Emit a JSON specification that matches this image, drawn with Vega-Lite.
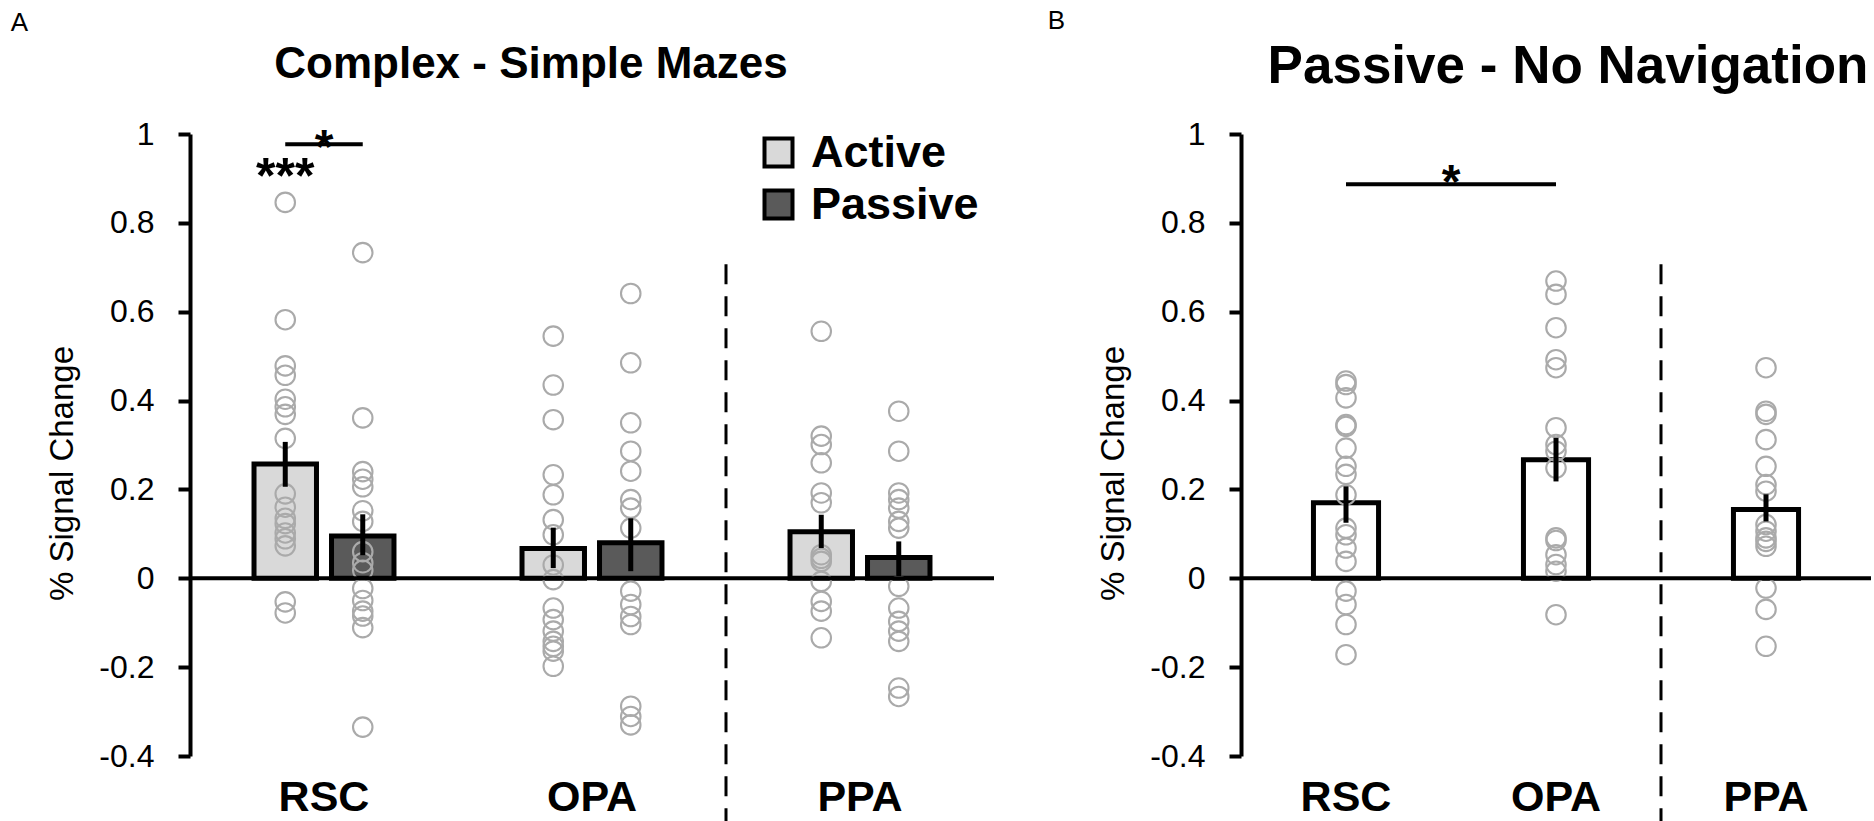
{
  "$schema": "https://vega.github.io/schema/vega-lite/v6.json",
  "background": "white",
  "padding": {"left": 10, "top": 8, "right": 0, "bottom": 0},
  "config": {
    "font": "Liberation Sans",
    "view": {"stroke": null},
    "axis": {"grid": false, "domainColor": "black", "tickColor": "black", "labelColor": "black", "titleColor": "black"},
    "title": {"color": "black"}
  },
  "datasets": {
    "barsA": [
      {"group": "RSC", "cond": "Active", "mean": 0.257, "lo": 0.206, "hi": 0.307},
      {"group": "RSC", "cond": "Passive", "mean": 0.095, "lo": 0.052, "hi": 0.144},
      {"group": "OPA", "cond": "Active", "mean": 0.067, "lo": 0.023, "hi": 0.114},
      {"group": "OPA", "cond": "Passive", "mean": 0.08, "lo": 0.016, "hi": 0.135},
      {"group": "PPA", "cond": "Active", "mean": 0.105, "lo": 0.068, "hi": 0.143},
      {"group": "PPA", "cond": "Passive", "mean": 0.047, "lo": 0.005, "hi": 0.083}
    ],
    "ptsA": [
      {"group": "RSC", "cond": "Active", "v": 0.846}, {"group": "RSC", "cond": "Active", "v": 0.582}, {"group": "RSC", "cond": "Active", "v": 0.478}, {"group": "RSC", "cond": "Active", "v": 0.457}, {"group": "RSC", "cond": "Active", "v": 0.403}, {"group": "RSC", "cond": "Active", "v": 0.386}, {"group": "RSC", "cond": "Active", "v": 0.369}, {"group": "RSC", "cond": "Active", "v": 0.315}, {"group": "RSC", "cond": "Active", "v": 0.19}, {"group": "RSC", "cond": "Active", "v": 0.16}, {"group": "RSC", "cond": "Active", "v": 0.135}, {"group": "RSC", "cond": "Active", "v": 0.123}, {"group": "RSC", "cond": "Active", "v": 0.102}, {"group": "RSC", "cond": "Active", "v": 0.089}, {"group": "RSC", "cond": "Active", "v": 0.073}, {"group": "RSC", "cond": "Active", "v": -0.053}, {"group": "RSC", "cond": "Active", "v": -0.078},
      {"group": "RSC", "cond": "Passive", "v": 0.733}, {"group": "RSC", "cond": "Passive", "v": 0.361}, {"group": "RSC", "cond": "Passive", "v": 0.24}, {"group": "RSC", "cond": "Passive", "v": 0.223}, {"group": "RSC", "cond": "Passive", "v": 0.206}, {"group": "RSC", "cond": "Passive", "v": 0.152}, {"group": "RSC", "cond": "Passive", "v": 0.128}, {"group": "RSC", "cond": "Passive", "v": 0.06}, {"group": "RSC", "cond": "Passive", "v": 0.035}, {"group": "RSC", "cond": "Passive", "v": 0.018}, {"group": "RSC", "cond": "Passive", "v": -0.023}, {"group": "RSC", "cond": "Passive", "v": -0.05}, {"group": "RSC", "cond": "Passive", "v": -0.074}, {"group": "RSC", "cond": "Passive", "v": -0.085}, {"group": "RSC", "cond": "Passive", "v": -0.111}, {"group": "RSC", "cond": "Passive", "v": -0.335},
      {"group": "OPA", "cond": "Active", "v": 0.545}, {"group": "OPA", "cond": "Active", "v": 0.435}, {"group": "OPA", "cond": "Active", "v": 0.357}, {"group": "OPA", "cond": "Active", "v": 0.233}, {"group": "OPA", "cond": "Active", "v": 0.188}, {"group": "OPA", "cond": "Active", "v": 0.132}, {"group": "OPA", "cond": "Active", "v": 0.098}, {"group": "OPA", "cond": "Active", "v": 0.03}, {"group": "OPA", "cond": "Active", "v": -0.003}, {"group": "OPA", "cond": "Active", "v": -0.067}, {"group": "OPA", "cond": "Active", "v": -0.093}, {"group": "OPA", "cond": "Active", "v": -0.119}, {"group": "OPA", "cond": "Active", "v": -0.142}, {"group": "OPA", "cond": "Active", "v": -0.153}, {"group": "OPA", "cond": "Active", "v": -0.164}, {"group": "OPA", "cond": "Active", "v": -0.198},
      {"group": "OPA", "cond": "Passive", "v": 0.641}, {"group": "OPA", "cond": "Passive", "v": 0.485}, {"group": "OPA", "cond": "Passive", "v": 0.35}, {"group": "OPA", "cond": "Passive", "v": 0.286}, {"group": "OPA", "cond": "Passive", "v": 0.241}, {"group": "OPA", "cond": "Passive", "v": 0.177}, {"group": "OPA", "cond": "Passive", "v": 0.158}, {"group": "OPA", "cond": "Passive", "v": 0.113}, {"group": "OPA", "cond": "Passive", "v": -0.029}, {"group": "OPA", "cond": "Passive", "v": -0.059}, {"group": "OPA", "cond": "Passive", "v": -0.086}, {"group": "OPA", "cond": "Passive", "v": -0.104}, {"group": "OPA", "cond": "Passive", "v": -0.288}, {"group": "OPA", "cond": "Passive", "v": -0.311}, {"group": "OPA", "cond": "Passive", "v": -0.33},
      {"group": "PPA", "cond": "Active", "v": 0.556}, {"group": "PPA", "cond": "Active", "v": 0.32}, {"group": "PPA", "cond": "Active", "v": 0.301}, {"group": "PPA", "cond": "Active", "v": 0.26}, {"group": "PPA", "cond": "Active", "v": 0.192}, {"group": "PPA", "cond": "Active", "v": 0.17}, {"group": "PPA", "cond": "Active", "v": 0.053}, {"group": "PPA", "cond": "Active", "v": 0.045}, {"group": "PPA", "cond": "Active", "v": 0.038}, {"group": "PPA", "cond": "Active", "v": -0.007}, {"group": "PPA", "cond": "Active", "v": -0.052}, {"group": "PPA", "cond": "Active", "v": -0.074}, {"group": "PPA", "cond": "Active", "v": -0.134},
      {"group": "PPA", "cond": "Passive", "v": 0.376}, {"group": "PPA", "cond": "Passive", "v": 0.286}, {"group": "PPA", "cond": "Passive", "v": 0.192}, {"group": "PPA", "cond": "Passive", "v": 0.177}, {"group": "PPA", "cond": "Passive", "v": 0.158}, {"group": "PPA", "cond": "Passive", "v": 0.128}, {"group": "PPA", "cond": "Passive", "v": 0.113}, {"group": "PPA", "cond": "Passive", "v": -0.018}, {"group": "PPA", "cond": "Passive", "v": -0.067}, {"group": "PPA", "cond": "Passive", "v": -0.097}, {"group": "PPA", "cond": "Passive", "v": -0.119}, {"group": "PPA", "cond": "Passive", "v": -0.142}, {"group": "PPA", "cond": "Passive", "v": -0.247}, {"group": "PPA", "cond": "Passive", "v": -0.266}
    ],
    "barsB": [
      {"group": "RSC", "mean": 0.17, "lo": 0.125, "hi": 0.207},
      {"group": "OPA", "mean": 0.267, "lo": 0.218, "hi": 0.316},
      {"group": "PPA", "mean": 0.155, "lo": 0.128, "hi": 0.189}
    ],
    "ptsB": [
      {"group": "RSC", "v": 0.444}, {"group": "RSC", "v": 0.436}, {"group": "RSC", "v": 0.406}, {"group": "RSC", "v": 0.346}, {"group": "RSC", "v": 0.342}, {"group": "RSC", "v": 0.293}, {"group": "RSC", "v": 0.252}, {"group": "RSC", "v": 0.234}, {"group": "RSC", "v": 0.188}, {"group": "RSC", "v": 0.113}, {"group": "RSC", "v": 0.098}, {"group": "RSC", "v": 0.068}, {"group": "RSC", "v": 0.038}, {"group": "RSC", "v": -0.029}, {"group": "RSC", "v": -0.059}, {"group": "RSC", "v": -0.104}, {"group": "RSC", "v": -0.172},
      {"group": "OPA", "v": 0.669}, {"group": "OPA", "v": 0.639}, {"group": "OPA", "v": 0.564}, {"group": "OPA", "v": 0.492}, {"group": "OPA", "v": 0.474}, {"group": "OPA", "v": 0.339}, {"group": "OPA", "v": 0.301}, {"group": "OPA", "v": 0.286}, {"group": "OPA", "v": 0.248}, {"group": "OPA", "v": 0.091}, {"group": "OPA", "v": 0.085}, {"group": "OPA", "v": 0.053}, {"group": "OPA", "v": 0.031}, {"group": "OPA", "v": 0.016}, {"group": "OPA", "v": -0.082},
      {"group": "PPA", "v": 0.474}, {"group": "PPA", "v": 0.376}, {"group": "PPA", "v": 0.369}, {"group": "PPA", "v": 0.312}, {"group": "PPA", "v": 0.252}, {"group": "PPA", "v": 0.211}, {"group": "PPA", "v": 0.196}, {"group": "PPA", "v": 0.121}, {"group": "PPA", "v": 0.106}, {"group": "PPA", "v": 0.091}, {"group": "PPA", "v": 0.083}, {"group": "PPA", "v": 0.072}, {"group": "PPA", "v": -0.022}, {"group": "PPA", "v": -0.07}, {"group": "PPA", "v": -0.153}
    ]
  },
  "spacing": 51,
  "hconcat": [
    {
      "title": {"text": "A", "anchor": "start", "fontSize": 26, "fontWeight": "normal", "dx": -36, "offset": 7},
      "hconcat": [
        {
          "width": 804,
          "height": 622,
          "title": {"text": "Complex - Simple Mazes", "fontSize": 44, "fontWeight": "bold", "anchor": "middle", "frame": "group", "dx": -61, "offset": 31},
          "layer": [
            {
              "data": {"name": "barsA"},
              "mark": {"type": "bar", "stroke": "black", "strokeWidth": 5},
              "encoding": {
                "x": {"field": "group", "type": "nominal", "scale": {"domain": ["RSC", "OPA", "PPA"], "paddingInner": 0, "paddingOuter": 0},
                      "axis": {"title": null, "domain": false, "ticks": false, "labelAngle": 0, "labelFontSize": 43, "labelFontWeight": "bold", "labelPadding": 20}},
                "xOffset": {"field": "cond", "type": "nominal", "scale": {"domain": ["Active", "Passive"], "paddingInner": 0.194, "paddingOuter": 0.826}},
                "y": {"field": "mean", "type": "quantitative", "scale": {"domain": [-0.4, 1], "nice": false, "zero": false},
                      "axis": {"title": "% Signal Change", "values": [-0.4, -0.2, 0, 0.2, 0.4, 0.6, 0.8, 1], "labelExpr": "toString(round(datum.value*10)/10)", "labelFontSize": 32, "titleFontSize": 33, "titleFontWeight": "normal", "tickSize": 12, "tickWidth": 4, "domainWidth": 4, "labelPadding": 24, "titlePadding": 19, "titleY": 339}},
                "fill": {"field": "cond", "type": "nominal", "scale": {"domain": ["Active", "Passive"], "range": ["#d9d9d9", "#5a5a5a"]},
                         "legend": {"orient": "none", "legendX": 566, "legendY": -4, "title": null, "symbolType": "square", "symbolSize": 784, "symbolStrokeColor": "black", "symbolStrokeWidth": 4, "labelFontSize": 45, "labelFontWeight": "bold", "labelOffset": 10, "labelLimit": 0, "rowPadding": 6, "padding": 0, "labelColor": "black"}}
              }
            },
            {
              "data": {"name": "ptsA"},
              "mark": {"type": "point", "shape": "circle", "filled": false, "size": 380, "stroke": "#aaaaaa", "strokeWidth": 2.1, "opacity": 1},
              "encoding": {
                "x": {"field": "group", "type": "nominal"},
                "xOffset": {"field": "cond", "type": "nominal"},
                "y": {"field": "v", "type": "quantitative"}
              }
            },
            {
              "data": {"name": "barsA"},
              "mark": {"type": "rule", "color": "black", "strokeWidth": 5},
              "encoding": {
                "x": {"field": "group", "type": "nominal"},
                "xOffset": {"field": "cond", "type": "nominal"},
                "y": {"field": "lo", "type": "quantitative"},
                "y2": {"field": "hi"}
              }
            },
            {
              "data": {"values": [{}]},
              "mark": {"type": "rule", "color": "black", "strokeWidth": 4},
              "encoding": {"y": {"datum": 0, "type": "quantitative"}}
            },
            {
              "data": {"values": [{}]},
              "mark": {"type": "rule", "color": "black", "strokeWidth": 3, "strokeDash": [20, 12]},
              "encoding": {
                "x": {"datum": "PPA", "type": "nominal", "bandPosition": 0},
                "y": {"datum": 0.707, "type": "quantitative"},
                "y2": {"datum": -0.55}
              }
            },
            {
              "data": {"values": [{"group": "RSC", "cond": "Active", "v": 0.977}, {"group": "RSC", "cond": "Passive", "v": 0.977}]},
              "mark": {"type": "line", "color": "black", "strokeWidth": 4},
              "encoding": {
                "x": {"field": "group", "type": "nominal"},
                "xOffset": {"field": "cond", "type": "nominal"},
                "y": {"field": "v", "type": "quantitative"}
              }
            },
            {
              "data": {"values": [{"group": "RSC", "cond": "Active", "label": "***", "v": 0.868}]},
              "mark": {"type": "text", "fontSize": 50, "fontWeight": "bold", "baseline": "alphabetic", "align": "center", "color": "black"},
              "encoding": {
                "x": {"field": "group", "type": "nominal"},
                "xOffset": {"field": "cond", "type": "nominal"},
                "y": {"field": "v", "type": "quantitative"},
                "text": {"field": "label"}
              }
            },
            {
              "data": {"values": [{"group": "RSC", "label": "*", "v": 0.934}]},
              "mark": {"type": "text", "fontSize": 48, "fontWeight": "bold", "baseline": "alphabetic", "align": "center", "color": "black"},
              "encoding": {
                "x": {"field": "group", "type": "nominal"},
                "y": {"field": "v", "type": "quantitative"},
                "text": {"field": "label"}
              }
            }
          ]
        }
      ]
    },
    {
      "title": {"text": "B", "anchor": "start", "fontSize": 26, "fontWeight": "normal", "dx": -50, "offset": 7},
      "hconcat": [
        {
          "width": 630,
          "height": 622,
          "title": {"text": "Passive - No Navigation", "fontSize": 53, "fontWeight": "bold", "anchor": "middle", "frame": "group", "dx": 12, "offset": 24},
          "layer": [
            {
              "data": {"name": "barsB"},
              "mark": {"type": "bar", "fill": "white", "stroke": "black", "strokeWidth": 5, "width": {"band": 0.31}},
              "encoding": {
                "x": {"field": "group", "type": "nominal", "scale": {"domain": ["RSC", "OPA", "PPA"], "paddingInner": 0, "paddingOuter": 0},
                      "axis": {"title": null, "domain": false, "ticks": false, "labelAngle": 0, "labelFontSize": 43, "labelFontWeight": "bold", "labelPadding": 20}},
                "y": {"field": "mean", "type": "quantitative", "scale": {"domain": [-0.4, 1], "nice": false, "zero": false},
                      "axis": {"title": "% Signal Change", "values": [-0.4, -0.2, 0, 0.2, 0.4, 0.6, 0.8, 1], "labelExpr": "toString(round(datum.value*10)/10)", "labelFontSize": 32, "titleFontSize": 33, "titleFontWeight": "normal", "tickSize": 12, "tickWidth": 4, "domainWidth": 4, "labelPadding": 24, "titlePadding": 19, "titleY": 339}}
              }
            },
            {
              "data": {"name": "ptsB"},
              "mark": {"type": "point", "shape": "circle", "filled": false, "size": 380, "stroke": "#aaaaaa", "strokeWidth": 2.1, "opacity": 1},
              "encoding": {
                "x": {"field": "group", "type": "nominal"},
                "y": {"field": "v", "type": "quantitative"}
              }
            },
            {
              "data": {"name": "barsB"},
              "mark": {"type": "rule", "color": "black", "strokeWidth": 5},
              "encoding": {
                "x": {"field": "group", "type": "nominal"},
                "y": {"field": "lo", "type": "quantitative"},
                "y2": {"field": "hi"}
              }
            },
            {
              "data": {"values": [{}]},
              "mark": {"type": "rule", "color": "black", "strokeWidth": 4},
              "encoding": {"y": {"datum": 0, "type": "quantitative"}}
            },
            {
              "data": {"values": [{}]},
              "mark": {"type": "rule", "color": "black", "strokeWidth": 3, "strokeDash": [20, 12]},
              "encoding": {
                "x": {"datum": "PPA", "type": "nominal", "bandPosition": 0},
                "y": {"datum": 0.707, "type": "quantitative"},
                "y2": {"datum": -0.55}
              }
            },
            {
              "data": {"values": [{"group": "RSC", "v": 0.887}, {"group": "OPA", "v": 0.887}]},
              "mark": {"type": "line", "color": "black", "strokeWidth": 4},
              "encoding": {
                "x": {"field": "group", "type": "nominal"},
                "y": {"field": "v", "type": "quantitative"}
              }
            },
            {
              "data": {"values": [{"group": "OPA", "label": "*", "v": 0.855}]},
              "mark": {"type": "text", "fontSize": 48, "fontWeight": "bold", "baseline": "alphabetic", "align": "center", "color": "black"},
              "encoding": {
                "x": {"field": "group", "type": "nominal", "bandPosition": 0},
                "y": {"field": "v", "type": "quantitative"},
                "text": {"field": "label"}
              }
            }
          ]
        }
      ]
    }
  ]
}
